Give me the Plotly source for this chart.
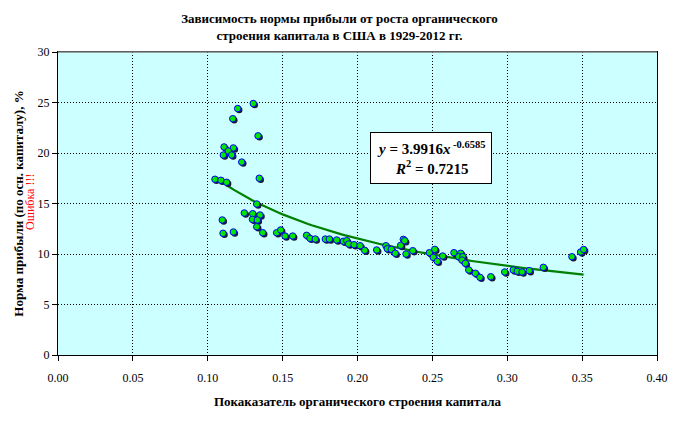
import plotly.graph_objects as go

# Data
x_vals = [0.1304, 0.1200, 0.1167, 0.1336, 0.1109, 0.1171, 0.1137, 0.1104, 0.1160, 0.1227,
          0.1344, 0.1048, 0.1088, 0.1126, 0.1327, 0.1244, 0.1300, 0.1349, 0.1097, 0.1298,
          0.1331, 0.1327, 0.1367, 0.1102, 0.1171, 0.1460, 0.1487, 0.1516, 0.1567, 0.1660,
          0.1683, 0.1718, 0.1785, 0.1812, 0.1861, 0.1906, 0.1928, 0.1941, 0.1977, 0.2017,
          0.2048, 0.2128, 0.2190, 0.2199, 0.2226, 0.2252, 0.2288, 0.2306, 0.2315, 0.2324,
          0.2369, 0.2480, 0.2516, 0.2506, 0.2533, 0.2569, 0.2644, 0.2689, 0.2676, 0.2703,
          0.2698, 0.2720, 0.2743, 0.2787, 0.2818, 0.2890, 0.2983, 0.3040, 0.3067, 0.3099,
          0.3147, 0.3241, 0.3432, 0.3490, 0.3510]
y_vals = [24.9, 24.4, 23.4, 21.7, 20.6, 20.5, 20.2, 19.8, 19.8, 19.1,
          17.5, 17.4, 17.3, 17.1, 14.95, 14.06, 13.99, 13.86, 13.37, 13.43,
          13.37, 12.70, 12.11, 12.05, 12.18, 12.11, 12.38, 11.78, 11.78, 11.85,
          11.55, 11.48, 11.48, 11.48, 11.39, 11.26, 11.32, 10.99, 10.92, 10.82,
          10.36, 10.40, 10.82, 10.52, 10.46, 10.07, 10.85, 11.45, 11.32, 10.00,
          10.33, 10.13, 10.46, 9.67, 9.27, 9.80, 10.13, 10.07, 9.73, 9.73,
          9.40, 9.08, 8.42, 8.09, 7.69, 7.75, 8.22, 8.42, 8.29, 8.22,
          8.35, 8.68, 9.73, 10.2, 10.45]

# Power trendline coefficients (from the chart's equation)
coef_a = 3.9916
coef_b = -0.6585
r_squared = 0.7215

x_ticks = [0.00, 0.05, 0.10, 0.15, 0.20, 0.25, 0.30, 0.35, 0.40]
y_ticks = [0, 5, 10, 15, 20, 25, 30]

title_text = "<b>Зависимость нормы прибыли от роста органического<br>строения капитала в США в 1929-2012 гг.</b>"
x_title = "<b>Покаказатель органического строения капитала</b>"
y_title = "<b>Норма прибыли (по осн. капиталу), %</b>"
err_text = "Ошибка !!!"

FONT = "Liberation Serif"

# trendline samples
xmin, xmax = min(x_vals), max(x_vals)
n = 100
trend_x = [xmin + (xmax - xmin) * i / (n - 1) for i in range(n)]
trend_y = [coef_a * xv ** coef_b for xv in trend_x]

fig = go.Figure()

fig.add_trace(go.Scatter(x=trend_x, y=trend_y, mode="lines",
                         line=dict(color="#008000", width=2.2),
                         xaxis="x", yaxis="y", hoverinfo="skip", showlegend=False))

# shadow markers on a slightly shifted overlay axis
px_x = 0.4 / 599
px_y = 30 / 303
fig.add_trace(go.Scatter(x=x_vals, y=y_vals, mode="markers",
                         marker=dict(size=6.5, color="#1a1a2a", line=dict(width=0)),
                         xaxis="x2", yaxis="y2", hoverinfo="skip", showlegend=False))

fig.add_trace(go.Scatter(x=x_vals, y=y_vals, mode="markers",
                         marker=dict(size=6.5, color="#00E600", line=dict(color="#0000FF", width=1)),
                         xaxis="x3", yaxis="y3", showlegend=False))

axis_common = dict(showline=True, linecolor="black", linewidth=1, mirror=True,
                   ticks="outside", ticklen=5, tickcolor="black",
                   showgrid=True, gridcolor="black", griddash="1px,2px", gridwidth=1,
                   zeroline=False, automargin=False,
                   tickfont=dict(family=FONT, size=12, color="black"))

fig.update_layout(
    width=679, height=423,
    margin=dict(l=58, r=22, t=52, b=68),
    paper_bgcolor="white",
    plot_bgcolor="#CCFFFF",
    font=dict(family=FONT, color="black"),
    title=dict(text=title_text, x=0.5, xanchor="center", y=1 - 23 / 423, yanchor="top",
               font=dict(family=FONT, size=13, color="black")),
    xaxis=dict(range=[0, 0.4], tickvals=x_ticks, ticktext=[f"{v:.2f}" for v in x_ticks],
               ticklabelstandoff=7,
               title=dict(text=x_title, font=dict(family=FONT, size=13), standoff=12),
               **axis_common),
    yaxis=dict(range=[0, 30], tickvals=y_ticks,
               title=dict(text=y_title, font=dict(family=FONT, size=13), standoff=11),
               **axis_common),
    xaxis2=dict(range=[0 - 1.5 * px_x, 0.4 - 1.5 * px_x], overlaying="x", visible=False),
    yaxis2=dict(range=[0 + 1.5 * px_y, 30 + 1.5 * px_y], overlaying="y", visible=False),
    xaxis3=dict(range=[0, 0.4], overlaying="x", visible=False),
    yaxis3=dict(range=[0, 30], overlaying="y", visible=False),
)

# grey top border of the plot area (as in the reference)
fig.add_shape(type="line", xref="paper", yref="paper", x0=0, x1=1, y0=1, y1=1,
              line=dict(color="#808080", width=1.5), layer="above")

fig.add_annotation(
    x=0.249, y=19.5, xref="x", yref="y",
    text=f"<b><i>y</i> = {coef_a}<i>x</i><sup> {coef_b}</sup></b><br><b><i>R</i><sup>2</sup> = {r_squared}</b>",
    showarrow=False, font=dict(family=FONT, size=15, color="black"),
    bgcolor="white", bordercolor="black", borderwidth=1, borderpad=6, align="center",
)

fig.add_annotation(
    x=(30 - 58) / 599, y=(355 - 202) / 303, xref="paper", yref="paper",
    xanchor="center", yanchor="middle",
    text=err_text, showarrow=False, textangle=-90,
    font=dict(family=FONT, size=12, color="red"),
)

fig.write_html("out.html", config={"displayModeBar": False},
               post_script="document.body.style.margin='0px';")
